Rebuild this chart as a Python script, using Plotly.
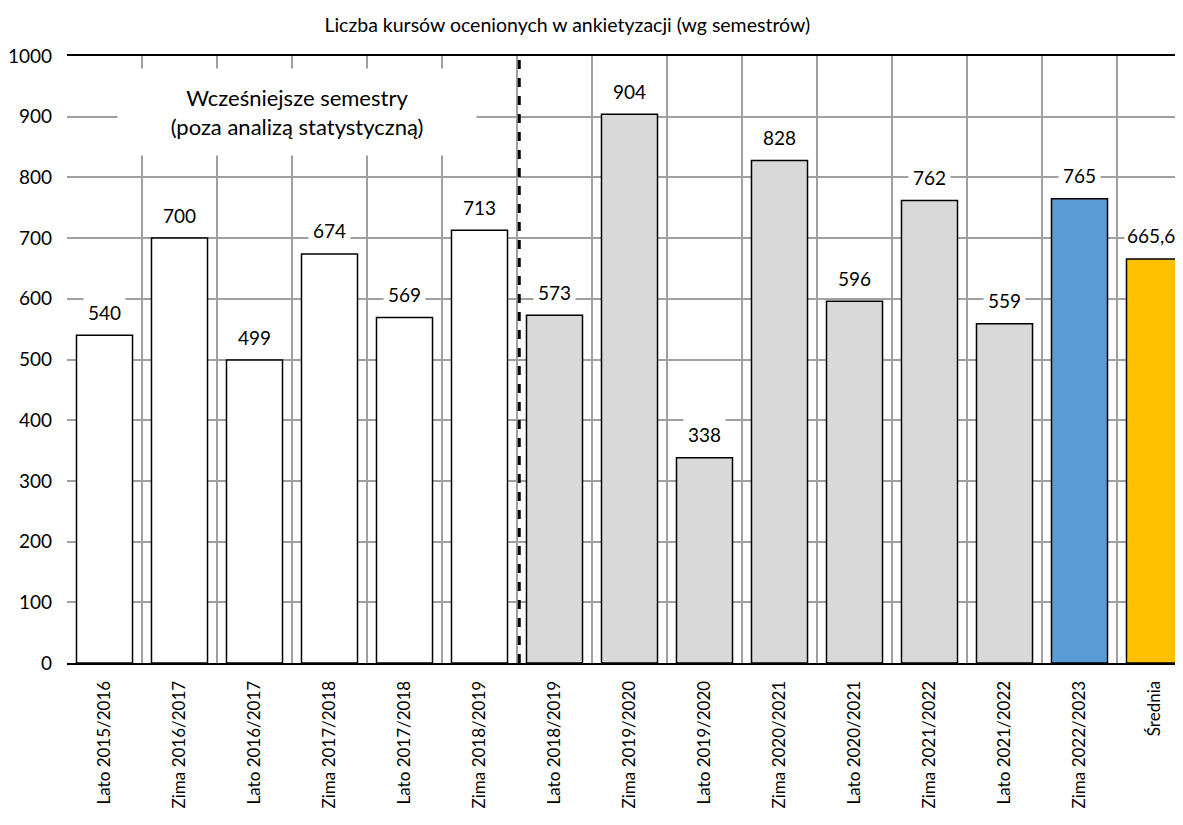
import plotly.graph_objects as go

# semestry i liczba ocenionych kursów
semestry = ['Lato 2015/2016', 'Zima 2016/2017', 'Lato 2016/2017', 'Zima 2017/2018',
            'Lato 2017/2018', 'Zima 2018/2019', 'Lato 2018/2019', 'Zima 2019/2020',
            'Lato 2019/2020', 'Zima 2020/2021', 'Lato 2020/2021', 'Zima 2021/2022',
            'Lato 2021/2022', 'Zima 2022/2023', 'Średnia']
kursy = [540, 700, 499, 674, 569, 713, 573, 904, 338, 828, 596, 762, 559, 765, 665.6]
etykiety = ['540', '700', '499', '674', '569', '713', '573', '904', '338', '828',
            '596', '762', '559', '765', '665,6']
kolory = ['white'] * 6 + ['#d9d9d9'] * 7 + ['#5b9bd5', '#ffc000']

FONT = 'Lato'
x = list(range(len(semestry)))

fig = go.Figure()
fig.add_trace(go.Bar(
    x=x, y=kursy,
    marker=dict(color=kolory, line=dict(color='black', width=1.5)),
    hoverinfo='skip',
))

# etykiety wartości z białym tłem (zasłaniają siatkę)
for xi, v, t in zip(x, kursy, etykiety):
    fig.add_annotation(x=xi, y=v, text=t, showarrow=False, yanchor='middle',
                       yshift=23, xshift=-4 if t == '665,6' else 0,
                       bgcolor='white', borderpad=4 if t != '665,6' else 2,
                       font=dict(family=FONT, size=19, color='black'))

fig.add_annotation(x=2.56, y=908, text='Wcześniejsze semestry<br>(poza analizą statystyczną)',
                   showarrow=False, bgcolor='white', width=356, height=84,
                   font=dict(family=FONT, size=22, color='black'))

# linia oddzielająca semestry poza analizą
fig.add_shape(type='line', x0=5.53, x1=5.53, y0=0, y1=1003, xref='x', yref='y',
              line=dict(color='black', width=3, dash='dash'))

# strona ma 8px marginesu body, stąd mniejszy rozmiar i marginesy
fig.update_layout(
    width=1175, height=817,
    margin=dict(l=59, r=0, t=48, b=162),
    plot_bgcolor='white', paper_bgcolor='white',
    showlegend=False, bargap=0.253,
    font=dict(family=FONT, size=19, color='black'),
    title=dict(text='Liczba kursów ocenionych w ankietyzacji (wg semestrów)',
               x=0.476, xanchor='center', y=0.979, yanchor='middle',
               font=dict(family=FONT, size=19.5, color='black')),
    xaxis=dict(range=[-0.5, 14.38], tickmode='array', tickvals=x, ticktext=semestry,
               tickangle=-90, showgrid=False, zeroline=False,
               showline=True, linecolor='black', linewidth=2, mirror=True,
               ticks='', ticklabelstandoff=9, tickfont=dict(size=17),
               minor=dict(tick0=-0.5, dtick=1, showgrid=True,
                          gridcolor='#a0a0a0', gridwidth=1.5, ticks='')),
    yaxis=dict(range=[0, 1000], dtick=100, showgrid=True, gridcolor='#a0a0a0',
               gridwidth=1.5, zeroline=False, showline=False, ticks='',
               ticklabelstandoff=14),
)

fig.write_html('out.html')
